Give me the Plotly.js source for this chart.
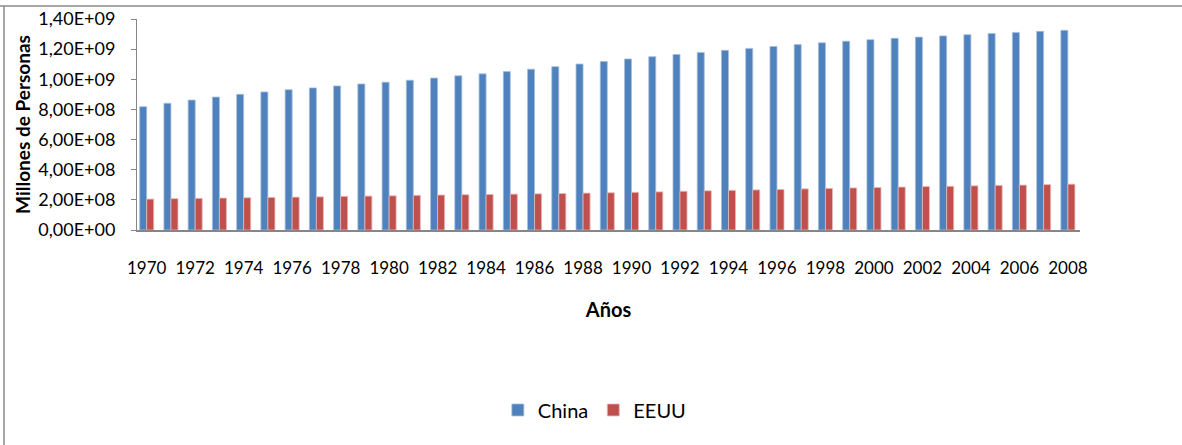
<!DOCTYPE html>
<html>
<head>
<meta charset="utf-8">
<script src="https://cdn.plot.ly/plotly-3.0.1.min.js"></script>
<style>
html,body{margin:0;padding:0;background:#fff;}
#chart{width:1182px;height:445px;}
</style>
</head>
<body>
<div id="chart"></div>
<script>
const years = [1970,1971,1972,1973,1974,1975,1976,1977,1978,1979,1980,1981,1982,1983,1984,1985,1986,1987,1988,1989,1990,1991,1992,1993,1994,1995,1996,1997,1998,1999,2000,2001,2002,2003,2004,2005,2006,2007,2008];
const china = [818e6,841e6,862e6,882e6,900e6,916e6,931e6,943e6,956e6,969e6,981e6,994e6,1008e6,1023e6,1036e6,1051e6,1067e6,1084e6,1101e6,1118e6,1135e6,1150e6,1165e6,1178e6,1192e6,1205e6,1218e6,1230e6,1242e6,1253e6,1263e6,1272e6,1280e6,1288e6,1296e6,1304e6,1311e6,1318e6,1325e6];
const eeuu = [205e6,208e6,210e6,212e6,214e6,216e6,218e6,220e6,223e6,225e6,227e6,230e6,232e6,234e6,236e6,238e6,240e6,242e6,245e6,247e6,250e6,253e6,257e6,260e6,263e6,266e6,269e6,273e6,276e6,279e6,282e6,285e6,288e6,290e6,293e6,296e6,298e6,301e6,304e6];
const yTickVals = [0,2e8,4e8,6e8,8e8,1e9,1.2e9,1.4e9];
const yTickLabels = ["0,00E+00","2,00E+08","4,00E+08","6,00E+08","8,00E+08","1,00E+09","1,20E+09","1,40E+09"];
const xTickVals = [1970,1972,1974,1976,1978,1980,1982,1984,1986,1988,1990,1992,1994,1996,1998,2000,2002,2004,2006,2008];

const FONT = 'Lato, "Open Sans", sans-serif';

const data = [
  {type:'bar', name:'China', x:years, y:china, marker:{color:'#4F81BD', line:{color:'#A7BFDE', width:0.8}}},
  {type:'bar', name:'EEUU', x:years, y:eeuu, marker:{color:'#C0504D', line:{color:'#E6B9B8', width:0.8}}}
];

const layout = {
  width:1182, height:445,
  margin:{l:137, r:102, t:19, b:215, pad:0},
  paper_bgcolor:'#fff', plot_bgcolor:'#fff',
  font:{family:FONT, color:'#000', size:17},
  barmode:'group', bargap:0.42, bargroupgap:0,
  showlegend:true,
  legend:{orientation:'h', x:0.485, xanchor:'center', y:-0.853, yanchor:'middle',
          font:{family:FONT, size:20, color:'#000'}, traceorder:'normal', itemwidth:30},
  xaxis:{
    range:[1969.6, 2008.5], tickvals:xTickVals, ticktext:xTickVals.map(String),
    showgrid:false, zeroline:false, showline:true, linecolor:'#868686', linewidth:2,
    ticks:'', ticklabelstandoff:22, tickfont:{family:FONT, size:17, color:'#000'},
    tickangle:0,
    title:{text:'<b>Años</b>', font:{family:FONT, size:20, color:'#000'}, standoff:26}
  },
  yaxis:{
    range:[0,1.4e9], tickvals:yTickVals, ticktext:yTickLabels,
    showgrid:false, zeroline:false, showline:true, linecolor:'#868686', linewidth:1,
    ticks:'outside', ticklen:5, tickcolor:'#868686', ticklabelstandoff:12,
    tickfont:{family:FONT, size:18, color:'#000'},
    title:{text:'<b>Millones de Personas</b>', font:{family:FONT, size:19, color:'#000'}, standoff:2}
  },
  shapes:[
    {type:'line', xref:'paper', yref:'paper', x0:-137/943, x1:1.2, y0:(230-6)/211, y1:(230-6)/211, line:{color:'#898989', width:1.5}},
    {type:'line', xref:'paper', yref:'paper', x0:-(137-4)/943, x1:-(137-4)/943, y0:(230-6)/211, y1:-1.2, line:{color:'#898989', width:1.5}}
  ]
};

Plotly.newPlot('chart', data, layout, {displayModeBar:false, staticPlot:true});
</script>
</body>
</html>
